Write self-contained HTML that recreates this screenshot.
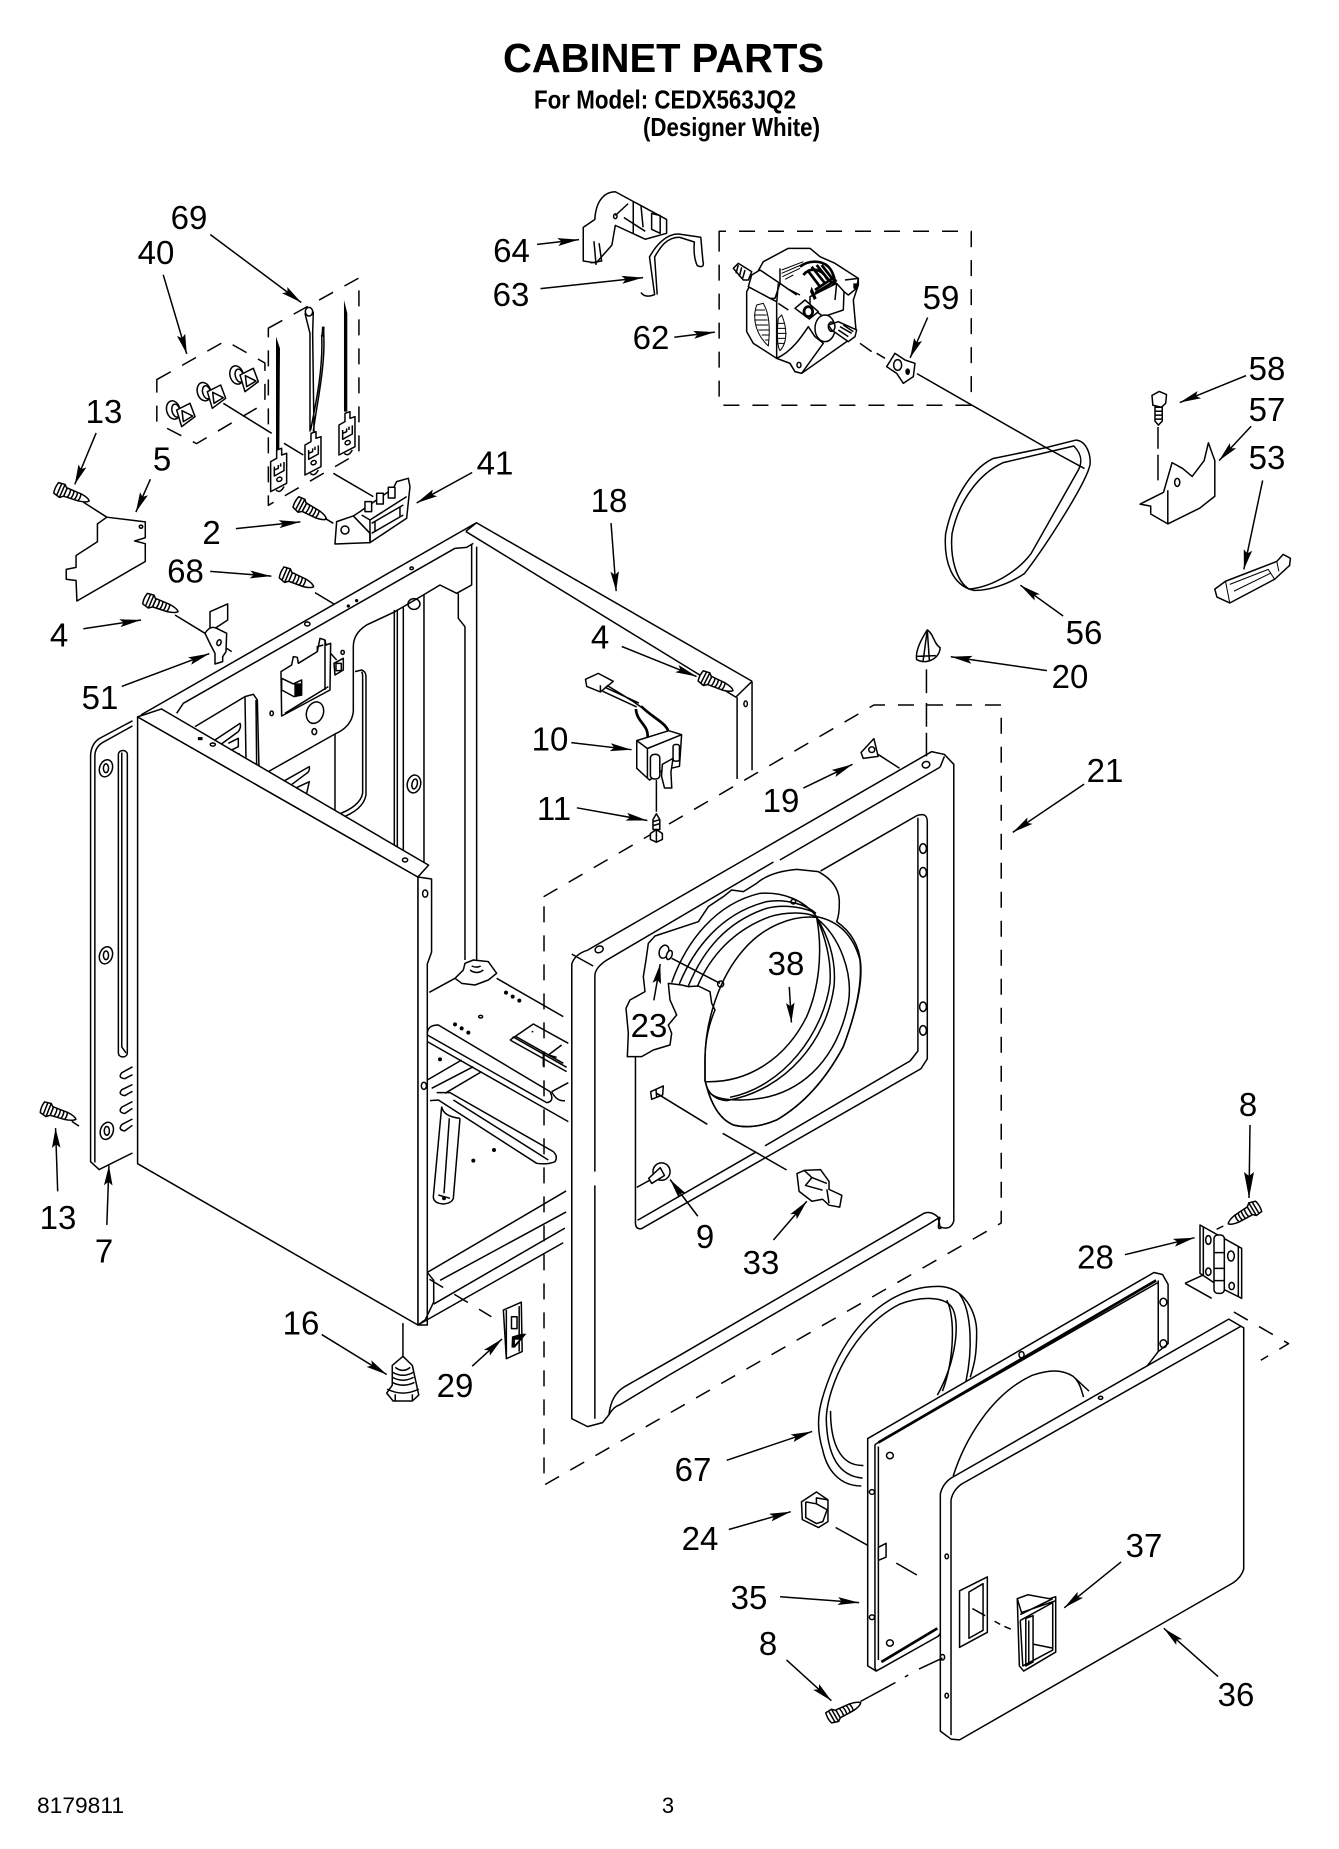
<!DOCTYPE html>
<html><head><meta charset="utf-8"><title>Cabinet Parts</title>
<style>
html,body{margin:0;padding:0;background:#fff}
svg{display:block}
path,line,ellipse,circle,polyline,polygon,rect{vector-effect:non-scaling-stroke;stroke-width:1.5;stroke-linejoin:round;stroke-linecap:butt}
.d{stroke-dasharray:16 13}
.w{fill:#fff}
.b{stroke-width:2.7}
.t{stroke-width:1}
.s{fill:#000;stroke:none}
.a{marker-end:url(#ah)}
text{font-family:"Liberation Sans",sans-serif;font-size:33px;text-anchor:middle;fill:#000;stroke:none}
</style></head><body>
<svg xmlns="http://www.w3.org/2000/svg" width="1339" height="1849" viewBox="0 0 1339 1849">
<defs>
<marker id="ah" markerUnits="userSpaceOnUse" markerWidth="60" markerHeight="30" viewBox="-5 -15 60 30" refX="50" refY="0" orient="auto"><path d="M0,-10 L50,0 L0,10 L9,0 Z" style="fill:#000;stroke:none"/></marker>
<g id="sc"><path class="w" d="M15,-14 L60,-12 Q85,-8 90,0 Q85,8 60,12 L15,14 Z"/><path class="w" d="M-15,-20 L5,-22 L15,-12 L15,14 L5,22 L-15,16 Q-20,0 -15,-20 Z"/><path d="M-5,-21 L-5,19 M5,-22 L5,22 M26,-14 Q30,0 26,14 M37,-13 Q41,0 37,13 M48,-13 Q52,0 48,13 M59,-12 Q63,0 59,12"/></g>
<g id="sw"><ellipse class="w" cx="-20" cy="-10" rx="20" ry="28" transform="rotate(-15 -20 -10)"/><ellipse class="w" cx="-12" cy="-8" rx="12" ry="20" transform="rotate(-15 -12 -8)"/><path class="w" d="M-10,-10 L30,-30 L45,10 L5,40 Z"/><path d="M6,-8 L10,25 L38,8 Z"/></g>
<g id="tm"><path d="M392,575 L410,565 L410,540 L425,535 L425,555 L440,550 L440,640 L392,665 Z" class="w"/><path d="M403,590 L403,618 L432,602 L432,576 M403,600 L415,595 L415,585 M422,590 L422,580"/><ellipse cx="418" cy="628" rx="8" ry="6" transform="rotate(-25 418 628)"/><path d="M408,660 Q420,672 432,650"/></g>
</defs>
<g fill="none" stroke="#000">

<!-- cabinet back, G3 -->
<g transform="translate(0,620) scale(.4273,.3954)">
<path d="M330,240 L1115,-246 L1760,155 M1090,-224 L1115,-246 M1090,-224 L1722,195 L1760,155"/>
<path d="M1725,195 L1725,402 M1760,155 L1760,380"/><ellipse cx="1745" cy="212" rx="4" ry="7"/>
</g>

<!-- cabinet interior -->
<g transform="translate(160,530) scale(.3333)">
<path d="M50,550 L70,520 L885,55 L920,52 L940,40"/>
<path d="M935,45 L935,165 L890,190 L840,165 L790,195 L705,245 L620,285 Q580,310 580,350 L580,545 Q575,590 525,612 L325,725 L340,750"/>
<path d="M895,190 L895,265 L915,290 L915,1290 M950,50 L950,1290"/>
<path d="M703,240 L703,1010 M712,238 L712,1010 M730,230 L730,1010 M792,195 L792,1010"/>
<ellipse cx="762" cy="222" rx="18" ry="16"/>
<ellipse cx="762" cy="762" rx="20" ry="27" transform="rotate(12 762 762)"/><ellipse cx="764" cy="762" rx="8" ry="15" transform="rotate(12 764 762)"/>
<ellipse cx="755" cy="115" rx="5" ry="4"/><circle cx="565" cy="228" r="5" class="s"/><circle cx="590" cy="212" r="5" class="s"/><ellipse cx="442" cy="282" rx="8" ry="6"/>
<path d="M465,188 L522,222"/>
<path d="M585,425 L605,420 Q618,425 618,440 L618,795 Q610,840 540,865 M605,425 Q608,430 608,440 L608,790 Q600,830 530,855 M525,612 L525,860"/>
<path class="w" d="M363,425 L395,405 L400,380 L412,382 L415,400 L472,365 L480,325 L495,330 L498,345 L512,340 L510,480 L365,558 Z"/>
<path d="M375,550 L505,470 M472,365 L472,350 L490,345 M495,330 L495,480"/>
<path class="w" d="M365,445 L400,462 L425,450 L425,495 L402,500 L365,480 Z"/><rect x="403" y="460" width="22" height="38" class="s"/>
<path d="M512,370 L530,390"/><path d="M522,400 L550,385 L550,420 L525,435 Z"/><rect x="528" y="400" width="16" height="22"/><ellipse cx="548" cy="367" rx="5" ry="6"/>
<ellipse cx="465" cy="548" rx="25" ry="33" transform="rotate(20 465 548)"/><ellipse cx="335" cy="550" rx="5" ry="7"/><ellipse cx="463" cy="605" rx="7" ry="9"/>
<path d="M105,590 L255,500 L280,493 L292,510 L297,715 M255,500 L258,690 M288,510 L290,710"/>
<path d="M165,630 L240,580 Q245,590 235,605 L180,645 M205,640 L235,625 L235,650 L215,660"/>
<circle cx="235" cy="675" r="6" class="s"/>
<path d="M360,760 L448,710 Q450,725 440,730 L380,775 M395,780 L448,755 L440,790 L410,790"/><circle cx="440" cy="805" r="6" class="s"/>
</g>

<!-- cabinet front, G3 -->
<g transform="translate(0,620) scale(.4273,.3954)">
<path class="w" d="M978,650 L1010,655 L1010,840 L1000,870 L1000,1783 L978,1783 Z"/>
<ellipse cx="995" cy="692" rx="6" ry="9"/><ellipse cx="992" cy="1178" rx="6" ry="9"/>
<path d="M1000,1650 L1325,1444 M1030,1670 L1325,1497 M1015,1730 L1322,1538 M978,1783 L1318,1575 M1000,1650 L1015,1670 L1015,1725 L995,1770 L978,1783"/>
<!-- left flange -->
<path class="w" d="M310,255 L232,300 Q212,315 212,345 L212,1370 L232,1390 L310,1348"/>
<path d="M310,268 L240,310 Q222,322 222,345 L222,1372"/>
<rect x="277" y="330" width="21" height="775" rx="10" ry="10"/><path d="M285,335 L285,1080 L295,1095"/>
<ellipse cx="248" cy="375" rx="15" ry="22" transform="rotate(15 248 375)"/><ellipse cx="248" cy="375" rx="6" ry="11"/>
<ellipse cx="248" cy="848" rx="15" ry="22" transform="rotate(15 248 848)"/><ellipse cx="248" cy="848" rx="6" ry="11"/>
<ellipse cx="250" cy="1292" rx="15" ry="22" transform="rotate(15 250 1292)"/><ellipse cx="250" cy="1292" rx="6" ry="11"/>
<path d="M310,1130 L285,1145 Q275,1158 292,1160 L310,1150 M310,1175 L285,1188 Q275,1200 292,1203 L310,1192 M310,1218 L285,1232 Q275,1245 292,1248 L310,1235 M310,1262 L285,1276 Q275,1290 292,1292 L310,1278"/>
<!-- side panel -->
<path class="w" d="M322,245 L978,650 L978,1783 L322,1375 Z"/>
<path class="w" d="M322,245 L378,225 L1003,620 L978,650 Z"/>
<ellipse cx="948" cy="607" rx="6" ry="5"/><rect x="463" y="296" width="11" height="8" class="s"/><ellipse cx="498" cy="315" rx="6" ry="4"/>
</g>

<!-- base -->
<g transform="translate(420,960) scale(.3333)">
<path class="w" d="M105,55 L130,30 L135,10 L160,0 L205,5 L230,40 L205,60 L165,75 L125,70 Z"/>
<path d="M150,30 Q170,45 190,30 M155,18 Q170,25 182,18 M28,97 L105,55 M230,55 L430,170"/>
<g class="s"><circle cx="258" cy="98" r="6"/><circle cx="278" cy="110" r="6"/><circle cx="298" cy="122" r="6"/><circle cx="105" cy="193" r="6"/><circle cx="125" cy="205" r="6"/><circle cx="145" cy="218" r="6"/><circle cx="60" cy="298" r="6"/><circle cx="222" cy="570" r="6"/><circle cx="160" cy="602" r="6"/><circle cx="72" cy="715" r="6"/></g>
<ellipse cx="182" cy="170" rx="6" ry="4"/>
<path d="M22,225 Q20,195 55,195 L390,395 Q405,425 380,428 L22,225 M22,245 L445,485"/>
<path d="M270,240 L340,192 L445,250 M285,228 L430,310 M270,240 L440,335 M278,230 L440,322 M335,215 L340,215 M425,255 L385,285 L410,292 M370,275 L370,320"/>
<path d="M395,395 L445,368 M395,395 Q410,425 435,422"/>
<path d="M22,360 L125,300 M160,320 L35,385 M185,335 L75,400 M50,398 L90,398 L400,575 Q415,590 405,605 Q380,615 350,610 L55,420 L30,422 M100,420 L385,600"/>
<path d="M65,440 L40,710 Q40,730 70,732 Q95,730 100,715 L120,475 M88,475 L72,700 M65,440 Q70,470 120,475"/>
<path d="M55,705 L90,715"/>
</g>

<!-- front frame G4 -->
<g transform="translate(500,620) scale(.4273,.3954)">
<path class="w" d="M168,870 Q175,845 205,835 L1010,333 L1040,340 L1062,365 L1062,1520 Q1055,1545 1030,1535 L1025,1510 Q1005,1490 985,1505 L420,1860 L290,1940 Q260,1960 255,2010 L240,2030 L205,2040 L168,2020 Z"/>
<path d="M218,875 L168,845 M1030,372 L655,607 M640,612 L250,860 Q222,880 222,900 L222,1395 M222,1430 L222,2020 M1040,345 L1030,372"/>
<path d="M1030,1510 L1000,1530 L395,1910 M1030,1510 Q1020,1550 1035,1535"/>
<ellipse cx="232" cy="833" rx="10" ry="8" transform="rotate(-30 232 833)"/><ellipse cx="997" cy="366" rx="9" ry="8" transform="rotate(-30 997 366)"/>
<path d="M255,2010 Q265,1990 280,1985 L395,1910"/>
<!-- window -->
<path d="M750,635 L975,495 Q1000,485 1000,510 L1000,1110 L985,1135 L330,1540 Q317,1540 317,1525 L317,1105"/>
<path d="M978,500 L978,1090 L960,1115 L620,1330 M320,1435 L370,1405 M322,1518 L600,1345"/>
<ellipse cx="990" cy="578" rx="8" ry="12"/><ellipse cx="990" cy="638" rx="8" ry="12"/><ellipse cx="990" cy="978" rx="8" ry="12"/><ellipse cx="990" cy="1038" rx="8" ry="12"/>
</g>

<!-- ring + tear -->
<g transform="translate(610,860) scale(.3333)">
<path class="w" d="M625,35 Q690,70 688,130 Q688,165 680,185 Q745,230 752,310 Q760,400 700,560 Q620,710 500,780 Q430,810 370,795 Q310,770 285,660 L285,600 Q285,520 315,450 L305,430 L300,395 L265,378 L235,380 L215,375 L175,370 L180,420 L200,465 L175,495 L185,520 L180,555 L130,570 L95,590 L52,590 L55,520 L48,445 L60,420 L105,395 L100,350 L108,300 L115,250 L135,228 L265,185 L295,140 L340,110 L365,90 L400,95 L440,70 Q480,35 560,28 Z"/>
<path d="M620,170 Q720,190 750,300 Q760,400 700,560 Q620,710 500,780 Q430,810 370,795 Q310,770 285,660"/>
<path d="M620,175 C690,230 730,340 715,430 C680,600 570,720 390,720 C345,720 320,715 300,700"/>
<path d="M620,172 C655,230 680,300 672,380 C650,540 530,690 350,722 C320,720 300,705 290,680"/>
<path d="M620,172 C645,230 665,300 660,370 C640,520 520,680 360,712"/>
<path d="M620,172 C545,165 460,200 400,270 C330,350 285,480 285,600 L285,665 C420,670 530,590 590,470 C625,390 640,280 620,172 Z"/>
<path d="M185,368 C230,240 320,130 450,100 C520,95 580,120 620,170 M208,372 C250,270 330,160 470,125 C530,115 590,135 618,160 M235,378 C280,270 350,185 470,145 C530,130 590,145 618,160 M262,380 C300,290 370,210 480,170 C530,155 590,155 620,172"/>
<ellipse cx="162" cy="275" rx="14" ry="20" transform="rotate(20 162 275)"/><ellipse class="w" cx="178" cy="285" rx="8" ry="14" transform="rotate(20 178 285)"/>
<path d="M185,295 L330,370"/><circle cx="332" cy="372" r="9"/><circle cx="550" cy="125" r="7"/>
<path class="w" d="M122,695 L160,678 L158,705 L125,718 Z"/><path d="M138,688 L140,712 M140,700 L292,793 M338,820 L530,930"/>
</g>

<!-- rest G4 -->
<g transform="translate(500,620) scale(.4273,.3954)">
<ellipse cx="378" cy="1395" rx="20" ry="22"/><path class="w" d="M348,1412 L375,1385 L385,1405 L355,1425 Z"/>
<path class="w" d="M695,1400 L712,1392 L750,1390 L770,1420 L770,1440 L800,1455 L795,1485 L770,1480 L755,1465 L730,1470 L700,1445 Z"/>
<path d="M712,1392 L730,1410 L765,1425 M730,1410 L715,1430 L755,1442 M765,1440 L770,1475"/>
<path class="d" d="M102,700 L875,215 L1173,215 L1173,1525 L103,2188 L103,716"/>
<path class="w" d="M1000,25 C985,50 972,80 975,100 C1000,115 1030,95 1030,70 C1015,60 1015,35 1000,25 Z"/><path d="M1000,25 L990,105 M1000,25 L1005,105 M975,92 L1020,90"/>
<path d="M998,125 L998,185 M998,210 L998,270 M998,285 L998,345"/>
<path class="w" d="M845,335 L875,300 L885,345 L850,350 Z"/><ellipse cx="870" cy="328" rx="7" ry="7"/><path d="M885,340 L935,375"/>
<path class="w" d="M200,150 L230,135 L265,155 L235,182 L203,168 Z"/><path d="M235,165 L235,182 M245,170 L325,210 M240,180 L320,220 M250,165 L310,205 L330,220"/>
<path d="M318,225 C320,260 350,265 345,300 M330,218 C360,250 390,260 395,285" class="b"/>
<path class="w" d="M320,305 L395,280 L425,290 L420,370 L380,380 L350,405 L320,375 Z"/>
<path d="M320,305 L345,325 L345,400 M345,325 L425,290"/>
<rect x="352" y="340" width="22" height="62" rx="9" ry="9" class="w"/><rect x="405" y="315" width="15" height="42" rx="5" ry="5" class="w"/>
<path class="w" d="M380,365 L405,350 L400,385 L402,425 L385,425 L378,395 Z"/>
<path d="M366,405 L366,485"/>
<path class="w" d="M358,530 L358,505 L366,490 L374,505 L374,530 Z"/><path class="w" d="M352,540 L366,530 L380,540 L380,555 L366,562 L352,555 Z"/><path d="M358,510 L374,505 M358,520 L374,515 M366,530 L366,562"/>
<use href="#sc" transform="translate(480,148) rotate(25) scale(.8)"/>
</g>

<!-- top parts G1 -->
<g transform="scale(.4273,.3954)">
<path class="d" d="M628,830 L840,703 L840,1145 L628,1278 Z"/>
<path class="d" d="M367,960 L528,862 L620,918 L620,1020 L460,1122 L367,1070 Z"/>
<path class="w" d="M250,1308 L340,1320 L340,1360 L315,1368 L340,1375 L340,1420 L180,1520 L178,1468 L155,1465 L155,1440 L178,1435 L178,1405 L228,1370 L228,1325 Z"/><circle cx="330" cy="1332" r="4"/>
<use href="#sc" transform="translate(142,1240) rotate(22) scale(.8)"/><path d="M195,1270 L250,1308"/>
<use href="#sc" transform="translate(350,1520) rotate(22) scale(.8)"/>
<path class="w" d="M1365,575 L1392,555 C1395,500 1420,485 1440,485 L1560,555 L1560,590 L1510,605 L1440,570 L1432,620 L1395,665 L1365,660 Z"/>
<path d="M1440,545 L1470,515 M1460,550 L1510,585 M1482,510 L1482,590 M1500,520 L1505,575 M1525,540 L1545,545 L1545,590 L1525,580 Z M1390,610 L1395,670 M1402,615 L1408,660 L1382,665"/><ellipse cx="1440" cy="547" rx="4" ry="6"/>
<path d="M1500,740 Q1510,755 1532,745 L1520,650 C1535,620 1560,590 1590,592 L1640,600 L1645,660 Q1650,680 1632,672 Q1622,650 1625,612 L1590,600 C1560,600 1545,625 1532,650 L1538,745"/>
</g>

<!-- terminals, switches, 41 -->
<g transform="translate(140,270) scale(.3333)">
<use href="#sw" transform="translate(120,430)"/><use href="#sw" transform="translate(212,375)"/><use href="#sw" transform="translate(310,325)"/>
<path class="s" d="M408,200 L420,235 L418,540 L408,540 Z"/>
<path class="s" d="M612,90 L622,130 L622,425 L612,425 Z"/>
<ellipse cx="507" cy="125" rx="11" ry="13"/>
<path d="M495,130 L510,190 L510,485 M520,125 L518,190 L522,485 M550,170 C560,280 530,400 520,485 M545,195 C550,290 530,390 512,480"/>
<path d="M550,170 L548,200" class="b"/>
<use href="#tm"/><use href="#tm" transform="translate(103,-50)"/><use href="#tm" transform="translate(205,-110)"/>
<path d="M250,400 L395,490 M432,520 L490,555 M580,610 L700,680"/>
<use href="#sc" transform="translate(480,705) rotate(28)"/><path d="M555,745 L580,760"/>
<path class="w" d="M640,738 L660,725 L760,655 L770,635 L805,625 L810,650 L800,745 L690,818 L690,790 Z"/>
<path class="w" d="M590,755 L640,738 L690,790 L690,818 L585,822 Z"/><circle cx="615" cy="780" r="12"/>
<path d="M665,735 L690,750 L800,680 M690,750 L690,815 M695,760 L790,705 M695,790 L790,735 M705,755 L705,785 M780,710 L780,740"/>
<rect x="675" y="695" width="20" height="30" class="w"/><rect x="710" y="670" width="20" height="32" class="w"/><rect x="745" y="652" width="20" height="32" class="w"/>
</g>

<!-- 68, 51 -->
<g transform="translate(160,530) scale(.3333)">
<use href="#sc" transform="translate(378,135) rotate(23)"/>
<path d="M45,255 L135,310"/>
<path class="w" d="M150,295 L150,245 L203,222 L203,270 L165,295 Z"/>
<path class="w" d="M135,310 Q150,285 170,295 L200,310 L198,365 L188,380 L188,395 L165,402 L165,370 L152,345 Z"/>
<ellipse cx="177" cy="338" rx="6" ry="9" transform="rotate(20 177 338)"/><path d="M200,355 L215,365"/>
</g>

<!-- motor -->
<g transform="translate(720,220) scale(.3333)">
<path class="w" d="M80,215 L130,125 L205,85 L270,85 L300,110 L345,130 L415,175 L415,195 L400,240 L408,330 L380,365 L245,460 L225,455 L210,430 L170,415 L100,370 L80,335 Z"/>
<path class="w" d="M120,150 L180,190 L165,235 L150,235 L85,200 L95,165 Z"/>
<path class="w" d="M40,145 L55,130 L95,155 L85,180 L70,180 Z"/><path d="M55,135 L48,160 M65,142 L58,170 M75,150 L68,175"/>
<path d="M150,235 L170,245 M175,190 L170,250 L170,415 M180,145 L180,190 L230,225 M200,205 L240,225 M175,250 L205,270"/>
<path class="t" d="M185,150 L250,125 M185,160 L250,132 M187,170 L240,145 M195,178 L220,165"/>
<path d="M240,140 C265,120 305,120 325,140 C340,155 345,180 345,195" class="b"/>
<path d="M250,165 C270,140 305,145 320,175 L345,195 M262,150 L300,200 M275,140 L315,190 M290,135 L330,185 M305,135 L340,180 M285,210 L345,170 M285,220 L350,180" class="b"/>
<path class="w" d="M270,230 L350,190 L372,215 L370,270 L310,290 L270,260 Z"/><path d="M350,190 L345,240 M375,180 L415,175 L410,205 L385,225 L372,215"/>
<path class="s" d="M275,200 L290,235 L282,240 L270,215 Z M400,190 L415,190 L410,210 L400,205 Z"/>
<path class="w" d="M225,265 L255,240 L295,275 L268,297 Z"/><ellipse cx="265" cy="275" rx="13" ry="15" class="b"/>
<path class="t" d="M110,255 C95,300 110,345 145,378 C150,330 150,285 130,250 Z M105,270 L135,270 M102,285 L140,285 M103,300 L143,300 M108,315 L145,315 M115,330 L147,330 M125,345 L147,345 M135,360 L145,360"/>
<path class="t" d="M175,295 C170,340 172,380 180,392 C205,365 200,320 185,285 Z M172,310 L195,310 M170,325 L198,325 M172,340 L200,340 M174,355 L198,355 M176,370 L192,370"/>
<path class="w" d="M170,415 C215,395 245,350 265,320 L285,350 L310,370 L245,460 L225,455 L210,430 Z"/><ellipse cx="237" cy="435" rx="6" ry="8"/>
<ellipse cx="315" cy="325" rx="30" ry="40" class="w"/>
<path class="w" d="M325,315 L355,305 L410,330 L405,350 L385,365 L335,330 Z"/>
<ellipse cx="335" cy="320" rx="10" ry="14"/>
<path d="M360,320 L395,340 M370,315 L400,335 M355,330 L385,350"/>
<path d="M420,370 L455,395 M470,400 L495,415"/>
<path class="w" d="M500,440 L525,400 L555,420 L585,430 L580,470 L550,490 L530,460 Z"/><ellipse cx="533" cy="435" rx="12" ry="16"/><ellipse cx="563" cy="455" rx="7" ry="10" class="s"/>
</g>

<!-- G2 belt etc -->
<g transform="translate(670,0) scale(.4273,.3954)">
<path class="d" d="M115,608 L115,585 L705,585 L705,1025 L115,1025 Z"/>
<path class="w" d="M880,1132 L950,1113 C975,1115 985,1150 983,1175 C975,1220 880,1380 830,1450 C790,1480 740,1495 710,1493 C660,1480 640,1420 645,1350 C660,1270 700,1190 755,1160 Z"/>
<path d="M945,1128 C965,1150 965,1170 955,1190 L845,1400 C810,1450 750,1485 700,1490 C670,1470 655,1410 660,1350 C675,1270 720,1200 780,1170 L945,1128 Z"/>
<path d="M578,945 L880,1132 L970,1185"/>
<path class="w" d="M1128,1000 L1145,990 L1162,998 L1160,1020 L1150,1030 L1130,1025 Z"/><path class="w" d="M1135,1030 L1152,1030 L1152,1065 L1143,1075 L1135,1065 Z"/><path d="M1135,1040 L1152,1040 M1135,1050 L1152,1050 M1135,1060 L1152,1060"/>
<path d="M1142,1080 L1142,1135 M1142,1150 L1142,1215"/>
<path class="w" d="M1100,1275 L1155,1245 L1175,1170 L1200,1185 L1222,1205 L1250,1165 L1260,1120 L1275,1165 L1275,1255 L1240,1285 L1165,1325 L1125,1300 L1125,1280 Z"/>
<path d="M1165,1240 L1165,1325"/><ellipse cx="1187" cy="1220" rx="6" ry="10"/>
<path class="w" d="M1275,1490 L1300,1470 L1420,1420 L1435,1402 L1452,1412 L1450,1430 L1415,1465 L1310,1525 L1280,1510 Z"/>
<path d="M1300,1470 L1310,1525 M1310,1478 L1400,1440 L1415,1465 M1320,1495 L1405,1450 M1420,1420 L1425,1445" class="t"/>
</g>

<!-- foot, clip G5 -->
<g transform="translate(0,1229) scale(.4273,.3954)">
<path d="M943,238 L943,322"/>
<path class="w" d="M918,345 L943,322 L965,345 L975,395 L980,420 L965,435 L920,435 L905,415 L918,395 Z"/>
<path d="M925,350 Q943,365 960,350 M918,362 Q943,378 968,362 M918,375 Q943,390 968,375 M918,388 Q943,402 970,388 M906,405 Q943,425 980,405 M925,418 L925,435 M965,418 L965,435"/>
<path class="d" d="M1005,127 L1150,222"/>
<path class="w" d="M1178,205 L1220,185 L1222,310 L1185,328 Z"/><path d="M1185,205 L1185,328 M1215,195 L1215,310"/><rect x="1197" y="222" width="13" height="30"/><path class="s" d="M1198,272 L1220,265 L1232,265 L1205,300 L1197,300 Z"/><path d="M1205,280 L1215,280 L1205,292 Z" style="fill:#fff;stroke:none"/>
</g>

<!-- door parts G6 -->
<g transform="translate(669,1229) scale(.4273,.3954)">
<path d="M450,650 C400,650 370,610 360,560 C340,490 350,440 385,350 C440,220 530,145 630,145 C690,145 720,210 720,260 C720,320 715,340 705,375"/>
<path d="M453,630 C395,625 370,570 368,480 C370,400 430,250 540,190 C590,170 640,170 660,195 C685,230 670,340 628,420"/>
<path d="M455,598 C400,600 378,540 378,460"/>
<path d="M650,180 C670,220 668,330 640,410 M680,165 C710,210 710,310 695,385"/>
<path class="w" d="M465,530 L1135,110 L1155,115 L1168,140 L1168,290 L1145,310 L630,1030 L485,1118 L465,1105 Z"/>
<path d="M482,545 L1145,135 M482,545 L482,1110 L485,1118"/><path d="M490,540 L1140,130" class="b"/><path d="M497,1095 L628,1010" class="b"/><path d="M490,1090 L490,550"/>
<path d="M1145,130 L1145,310"/><ellipse cx="1157" cy="185" rx="8" ry="10"/><ellipse cx="1157" cy="290" rx="8" ry="10"/>
<circle cx="517" cy="573" r="8"/><circle cx="517" cy="1047" r="8"/><circle cx="475" cy="665" r="6"/><circle cx="475" cy="982" r="6"/><ellipse cx="825" cy="318" rx="6" ry="8"/>
<path class="w" d="M490,805 L508,795 L508,830 L490,838 Z"/>
<path d="M665,625 C690,540 750,420 850,370 C890,355 920,355 945,372 C960,385 965,405 970,425 M945,372 L983,410"/>
<path d="M390,755 L465,800 M532,845 L580,875"/>
<path class="w" d="M310,690 L345,665 L372,685 L372,740 L350,755 L312,735 Z"/><path d="M320,690 L320,730 L345,745 L360,740 L370,710 L345,695 L320,690 M345,695 L345,680 L372,685"/>
<path class="w" d="M635,670 Q640,645 660,630 L1310,228 L1345,250 L1345,860 Q1340,880 1320,895 L680,1292 L660,1290 L635,1270 Z"/>
<path d="M660,685 Q665,660 685,645 L1340,245 M660,685 L660,1280"/>
<ellipse cx="650" cy="828" rx="4" ry="6"/><ellipse cx="650" cy="1180" rx="4" ry="6"/><ellipse cx="1010" cy="427" rx="5" ry="4"/><ellipse cx="640" cy="1083" rx="5" ry="7"/>
<path d="M680,915 L745,880 L745,1020 L680,1058 Z M702,918 L735,897 L735,1015 L702,1035 Z"/>
<path d="M710,960 L740,978 M762,992 L775,1000 M785,1005 L800,1012"/>
<path class="w" d="M815,935 L840,925 L890,935 L905,930 L905,1070 L830,1118 L820,1105 Z"/>
<path d="M815,935 L825,970 L905,940 M822,975 L898,935 M822,990 L898,945 L898,1065 L828,1105 L822,990 M835,985 L852,978 L852,1095 L835,1105 Z M852,1050 L898,1060 M842,990 L842,1098"/>
<path class="d" d="M1322,210 L1450,290 L1385,332"/>
<use href="#sc" transform="translate(385,1232) rotate(-28) scale(.8)"/>
<path d="M448,1195 L530,1147 M552,1133 L560,1128 M585,1113 L640,1085"/>
</g>

<!-- screw 13 lower -->
<g transform="translate(0,620) scale(.4273,.3954)"><use href="#sc" transform="translate(110,1238) rotate(20) scale(.8)"/><path d="M168,1268 L185,1280"/></g>

<!-- hinge and screw 8 -->
<g transform="translate(1170,1170) scale(.3333)">
<path d="M45,340 L100,315 M45,340 L125,385"/>
<path class="w" d="M90,165 L215,235 L215,385 L165,360 L90,310 Z"/><path d="M205,230 L205,380 M100,170 L100,318"/>
<rect x="132" y="195" width="31" height="175" rx="11" ry="11" class="w"/><path d="M132,248 L163,248 M132,295 L163,295 M132,332 L163,332"/>
<ellipse cx="115" cy="210" rx="8" ry="13"/><ellipse cx="115" cy="305" rx="8" ry="11"/><ellipse cx="183" cy="258" rx="10" ry="15"/><ellipse cx="185" cy="348" rx="8" ry="11"/>
<path d="M140,178 L160,168"/>
<use href="#sc" transform="translate(252,115) rotate(149)"/>
</g>

<!-- arrows -->
<line class="a" x1="1250" y1="1125" x2="1249" y2="1198" style="marker-end:none"/>
<path class="s" d="M1244,1172 L1249,1198 L1254,1172 L1249,1176 Z"/>
<g transform="scale(.4273,.3954)">
<line class="a" x1="492" y1="593" x2="705" y2="765"/><line class="a" x1="382" y1="695" x2="437" y2="895"/><line class="a" x1="225" y1="1095" x2="175" y2="1225"/><line class="a" x1="352" y1="1212" x2="318" y2="1295"/><line class="a" x1="552" y1="1337" x2="703" y2="1320"/><line class="a" x1="1105" y1="1195" x2="975" y2="1272"/><line class="a" x1="1430" y1="1323" x2="1442" y2="1495"/><line class="a" x1="492" y1="1445" x2="635" y2="1457"/><line class="a" x1="1257" y1="618" x2="1355" y2="606"/><line class="a" x1="1265" y1="730" x2="1505" y2="702"/>
</g>
<g transform="translate(670,0) scale(.4273,.3954)">
<line class="a" x1="10" y1="853" x2="105" y2="840"/><line class="a" x1="603" y1="803" x2="562" y2="905"/><line class="a" x1="1348" y1="950" x2="1193" y2="1018"/><line class="a" x1="1360" y1="1078" x2="1285" y2="1165"/><line class="a" x1="1387" y1="1215" x2="1343" y2="1440"/><line class="a" x1="920" y1="1558" x2="820" y2="1480"/>
</g>
<g transform="translate(0,620) scale(.4273,.3954)">
<line class="a" x1="195" y1="22" x2="330" y2="0"/><line class="a" x1="285" y1="168" x2="490" y2="85"/><line class="a" x1="135" y1="1445" x2="130" y2="1285"/><line class="a" x1="250" y1="1530" x2="255" y2="1380"/><line class="a" x1="1337" y1="310" x2="1478" y2="328"/><line class="a" x1="1350" y1="475" x2="1515" y2="507"/>
</g>
<g transform="translate(500,620) scale(.4273,.3954)">
<line class="a" x1="285" y1="67" x2="460" y2="143"/><line class="a" x1="710" y1="425" x2="825" y2="365"/><line class="a" x1="1280" y1="128" x2="1055" y2="93"/><line class="a" x1="1367" y1="415" x2="1200" y2="537"/><line class="a" x1="360" y1="962" x2="375" y2="870"/><line class="a" x1="677" y1="928" x2="682" y2="1018"/><line class="a" x1="463" y1="1508" x2="398" y2="1415"/><line class="a" x1="640" y1="1568" x2="718" y2="1470"/>
</g>
<g transform="translate(0,1229) scale(.4273,.3954)">
<line class="a" x1="753" y1="267" x2="905" y2="368"/><line class="a" x1="1105" y1="347" x2="1175" y2="278"/>
</g>
<g transform="translate(669,1229) scale(.4273,.3954)">
<line class="a" x1="1067" y1="65" x2="1230" y2="22"/><line class="a" x1="135" y1="585" x2="335" y2="512"/><line class="a" x1="140" y1="760" x2="285" y2="715"/><line class="a" x1="260" y1="930" x2="445" y2="945"/><line class="a" x1="275" y1="1090" x2="380" y2="1193"/><line class="a" x1="1058" y1="842" x2="925" y2="958"/><line class="a" x1="1285" y1="1132" x2="1158" y2="1010"/>
</g>
</g>

<!-- text -->
<text x="663.5" y="72" style="font-size:40.5px;font-weight:bold" textLength="321" lengthAdjust="spacingAndGlyphs">CABINET PARTS</text>
<text x="665" y="108.5" style="font-size:26px;font-weight:bold" textLength="262" lengthAdjust="spacingAndGlyphs">For Model: CEDX563JQ2</text>
<text x="731.5" y="136" style="font-size:26px;font-weight:bold" textLength="177" lengthAdjust="spacingAndGlyphs">(Designer White)</text>

<text x="189" y="229">69</text><text x="156" y="264">40</text><text x="104" y="423">13</text><text x="162" y="470.5">5</text>
<text x="211.5" y="544">2</text><text x="495" y="474.5">41</text><text x="609" y="512">18</text><text x="185.5" y="582.5">68</text>
<text x="511.5" y="262">64</text><text x="511" y="306">63</text><text x="651" y="349">62</text><text x="941" y="309">59</text>
<text x="1267" y="380">58</text><text x="1267" y="421">57</text><text x="1267" y="469">53</text><text x="1084" y="644">56</text>
<text x="59" y="646.5">4</text><text x="100" y="709">51</text><text x="600" y="648.5">4</text><text x="550" y="750.5">10</text>
<text x="554" y="820">11</text><text x="58" y="1229">13</text><text x="104" y="1262.5">7</text><text x="1070" y="688">20</text>
<text x="1105" y="782">21</text><text x="781" y="812">19</text><text x="649" y="1037">23</text><text x="786" y="975">38</text>
<text x="705" y="1248">9</text><text x="761" y="1274">33</text><text x="301" y="1334.5">16</text><text x="455" y="1397">29</text>
<text x="1095.5" y="1268.5">28</text><text x="700" y="1550">24</text><text x="693" y="1481">67</text><text x="749" y="1609">35</text>
<text x="768" y="1655">8</text><text x="1144" y="1557">37</text><text x="1236" y="1706">36</text><text x="1248" y="1116">8</text>
<text x="80.5" y="1813" style="font-size:22px" textLength="87" lengthAdjust="spacingAndGlyphs">8179811</text>
<text x="668" y="1813" style="font-size:22px">3</text>
</svg>
</body></html>
